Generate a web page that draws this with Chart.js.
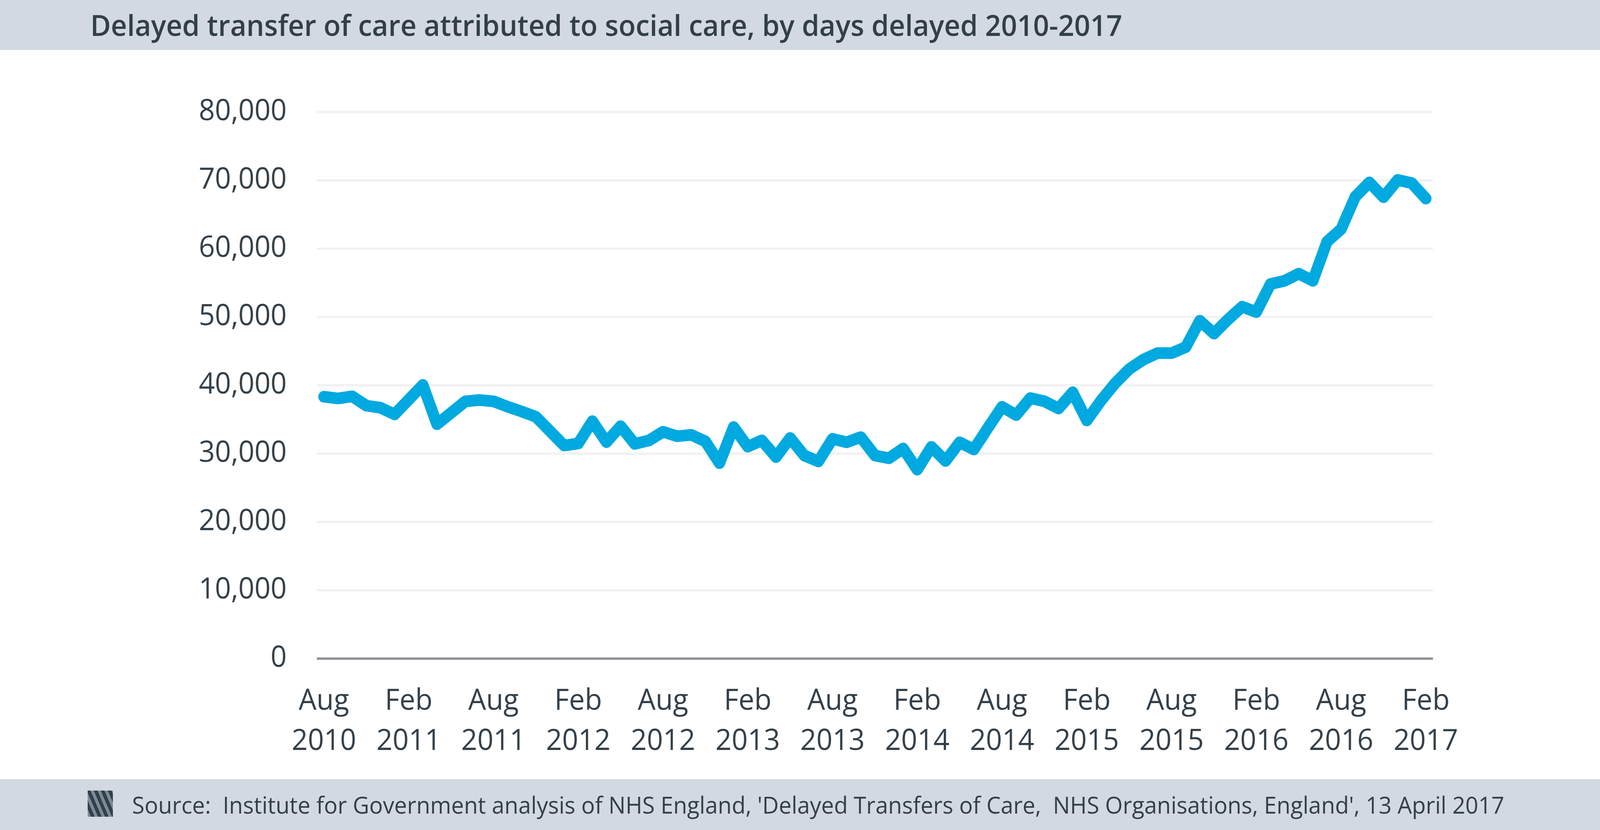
<!DOCTYPE html>
<html>
<head>
<meta charset="utf-8">
<script src="https://cdn.jsdelivr.net/npm/chart.js@4.4.1/dist/chart.umd.min.js"></script>
<style>
  html, body { margin: 0; padding: 0; background: #fff; overflow: hidden; }
  #page { position: absolute; left: 0; top: 0; width: 4252px; height: 2126px; transform-origin: 0 0;
          font-family: 'Open Sans', sans-serif; color: #333f48; }
  #header { position: absolute; left: 0; top: 0; width: 4252px; height: 128px; background: #d2d9e0; }
  #title { position: absolute; left: 240px; top: 0; line-height: 126px; font-size: 74.5px; font-weight: 600; white-space: pre; }
  #footer { position: absolute; left: 0; top: 1996px; width: 4252px; height: 130px; background: #d2d9e0; }
  #icon { position: absolute; left: 233px; top: 29px; width: 67px; height: 67px;
          background: repeating-linear-gradient(66deg, #7b8b9a 0 8px, #333f48 8px 17px); }
  #source { position: absolute; left: 351px; top: 0; line-height: 130px; font-size: 60.3px; white-space: pre; }
  #wrap { position: absolute; left: 0; top: 128px; width: 4252px; height: 1868px; }
</style>
</head>
<body>
<div id="page">
  <div id="header"><div id="title">Delayed transfer of care attributed to social care, by days delayed 2010-2017</div></div>
  <div id="wrap"><canvas id="chart" width="4252" height="1868"></canvas></div>
  <div id="footer"><div id="icon"></div><div id="source">Source:  Institute for Government analysis of NHS England, 'Delayed Transfers of Care,  NHS Organisations, England', 13 April 2017</div></div>
</div>
<script>
// monthly, Aug 2010 - Feb 2017
const categories = [
  'Aug 2010','Sep 2010','Oct 2010','Nov 2010','Dec 2010',
  'Jan 2011','Feb 2011','Mar 2011','Apr 2011','May 2011','Jun 2011','Jul 2011','Aug 2011','Sep 2011','Oct 2011','Nov 2011','Dec 2011',
  'Jan 2012','Feb 2012','Mar 2012','Apr 2012','May 2012','Jun 2012','Jul 2012','Aug 2012','Sep 2012','Oct 2012','Nov 2012','Dec 2012',
  'Jan 2013','Feb 2013','Mar 2013','Apr 2013','May 2013','Jun 2013','Jul 2013','Aug 2013','Sep 2013','Oct 2013','Nov 2013','Dec 2013',
  'Jan 2014','Feb 2014','Mar 2014','Apr 2014','May 2014','Jun 2014','Jul 2014','Aug 2014','Sep 2014','Oct 2014','Nov 2014','Dec 2014',
  'Jan 2015','Feb 2015','Mar 2015','Apr 2015','May 2015','Jun 2015','Jul 2015','Aug 2015','Sep 2015','Oct 2015','Nov 2015','Dec 2015',
  'Jan 2016','Feb 2016','Mar 2016','Apr 2016','May 2016','Jun 2016','Jul 2016','Aug 2016','Sep 2016','Oct 2016','Nov 2016','Dec 2016',
  'Jan 2017','Feb 2017'
];

const daysDelayed = [
  38330, 38080, 38390, 37030, 36720,
  35750, 37900, 40060, 34310, 35970, 37640, 37850, 37660, 36870, 36170, 35400, 33300,
  31190, 31490, 34750, 31690, 34020, 31440, 31920, 33200, 32550, 32750, 31800, 28610,
  33890, 31030, 31940, 29500, 32290, 29730, 28860, 32170, 31660, 32420, 29730, 29330,
  30760, 27660, 30990, 28930, 31660, 30610, 33780, 36860, 35650, 38130, 37660, 36610,
  38980, 34860, 37750, 40290, 42370, 43760, 44710, 44710, 45590, 49450, 47580, 49650,
  51510, 50720, 54820, 55300, 56340, 55300, 61020, 62860, 67600, 69700, 67540, 70060,
  69600, 67340
];

const yMin = 0;
const yMax = 80000;
const yStep = 10000;
const labelEvery = 6;

// the window may be narrower than the 4252px design; squeeze horizontally to fit
const sx = Math.min(1, window.innerWidth / 4252);
document.getElementById('page').style.transform = 'scaleX(' + sx + ')';

function drawChart() {
  const ctx = document.getElementById('chart').getContext('2d');
  new Chart(ctx, {
    type: 'line',
    data: {
      labels: categories,
      datasets: [{
        data: daysDelayed,
        borderColor: '#00a9e0',
        borderWidth: 30,
        borderJoinStyle: 'round',
        borderCapStyle: 'round',
        pointRadius: 0,
        tension: 0,
        fill: false
      }]
    },
    options: {
      responsive: false,
      animation: false,
      devicePixelRatio: 1,
      layout: { padding: { left: 0, right: 444, top: 159, bottom: 0 } },
      plugins: { legend: { display: false }, tooltip: { enabled: false } },
      scales: {
        x: {
          type: 'category',
          offset: true,
          grid: { display: false, drawTicks: false },
          border: { display: false },
          afterFit: s => { s.height = 309; },
          ticks: {
            autoSkip: false,
            maxRotation: 0,
            padding: 58,
            color: '#333f48',
            font: { family: 'Open Sans', size: 75, lineHeight: 1.373 },
            callback: (v, i) => i % labelEvery === 0 ? categories[i].split(' ') : null
          }
        },
        y: {
          min: yMin,
          max: yMax,
          grid: {
            drawTicks: false,
            lineWidth: 6,
            color: c => c.tick.value === 0 ? '#8e9194' : '#f2f2f2'
          },
          border: { display: false },
          afterFit: s => { s.width = 842; },
          ticks: {
            stepSize: yStep,
            padding: 80,
            color: '#333f48',
            font: { family: 'Open Sans', size: 75 },
            callback: v => v.toLocaleString('en-GB')
          }
        }
      }
    }
  });
}

document.fonts.load('75px "Open Sans"').then(drawChart, drawChart);
</script>
</body>
</html>
